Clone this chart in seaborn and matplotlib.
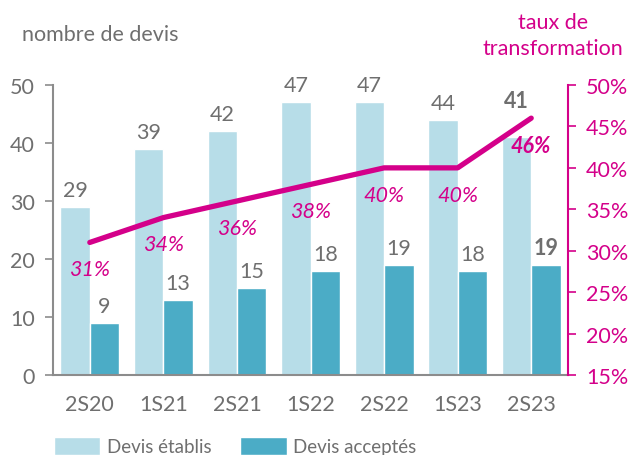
import seaborn as sns
import matplotlib.pyplot as plt
import pandas as pd
import numpy as np

periodes = ["2S20", "1S21", "2S21", "1S22", "2S22", "1S23", "2S23"]
devis_etablis = [29, 39, 42, 47, 47, 44, 41]
devis_acceptes = [9, 13, 15, 18, 19, 18, 19]
taux = [31, 34, 36, 38, 40, 40, 46]

GRIS = "#6f6f6f"
MAGENTA = "#d4008a"
CLAIR = "#b7dde8"
FONCE = "#4bacc6"
FS = 15.5

sns.set_theme(style="white")
plt.rcParams['font.family'] = ['Lato', 'DejaVu Sans']

df = pd.DataFrame({
    "periode": periodes * 2,
    "devis": devis_etablis + devis_acceptes,
    "serie": ["Devis établis"] * len(periodes) + ["Devis acceptés"] * len(periodes),
})

fig = plt.figure(figsize=(6.35, 4.56), dpi=100)
ax = fig.add_axes([0.0835, 0.1754, 0.811, 0.636])
sns.barplot(data=df, x="periode", y="devis", hue="serie", ax=ax,
            palette=[CLAIR, FONCE], width=0.8, saturation=1, legend=True)
ax.set_ylim(0, 50)
ax.set_xlim(-0.5, len(periodes) - 0.5)
ax.set_yticks(range(0, 51, 10))
ax.set_xlabel("")
ax.set_ylabel("")
ax.set_xticks(np.arange(len(periodes) + 1) - 0.5, minor=False)
ax.set_xticklabels([])
ax.set_xticks(np.arange(len(periodes)), minor=True)
ax.set_xticklabels(periodes, minor=True)
ax.tick_params(axis="x", which="major", length=6, width=1.2, color="#8c8c8c", direction="out")
ax.tick_params(axis="x", which="minor", length=0, pad=14, labelsize=FS, labelcolor=GRIS)
ax.tick_params(axis="y", length=6, width=1.2, color="#8c8c8c", direction="out", left=True,
               labelsize=FS, labelcolor=GRIS, pad=7)
for s in ["top", "right"]:
    ax.spines[s].set_visible(False)
for s in ["left", "bottom"]:
    ax.spines[s].set_color("#8c8c8c")
    ax.spines[s].set_linewidth(1.5)

# bar value labels
for ci, cont in enumerate(ax.containers):
    vals = devis_etablis if ci == 0 else devis_acceptes
    for i, (p, v) in enumerate(zip(cont.patches, vals)):
        last = i == len(vals) - 1
        dy = 5
        if last and ci == 0:
            dy = 19
        ax.annotate(str(v), (p.get_x() + p.get_width() / 2, p.get_height()),
                    xytext=(0, dy), textcoords="offset points", ha="center", va="bottom",
                    fontsize=FS, color=GRIS, fontweight="bold" if last else "normal")

ax2 = ax.twinx()
sns.lineplot(x=np.arange(len(periodes)), y=taux, ax=ax2, color=MAGENTA, linewidth=3.8,
             solid_capstyle="round")
ax2.set_ylim(15, 50)
ax2.set_yticks(range(15, 51, 5))
ax2.set_yticklabels([f"{t}%" for t in range(15, 51, 5)])
ax2.tick_params(axis="y", length=6, width=1.2, color=MAGENTA, direction="out", right=True,
                labelsize=FS, labelcolor=MAGENTA, pad=7)
for s in ["top", "left", "bottom"]:
    ax2.spines[s].set_visible(False)
ax2.spines["right"].set_color(MAGENTA)
ax2.spines["right"].set_linewidth(1.5)

for i, t in enumerate(taux):
    last = i == len(taux) - 1
    ax2.annotate(f"{t}%", (i, t), xytext=(0, -12), textcoords="offset points",
                 ha="center", va="top", fontsize=FS, color=MAGENTA, style="italic",
                 fontweight="bold" if last else "normal")

fig.text(0.035, 0.923, "nombre de devis", fontsize=FS, color=GRIS, ha="left", va="center")
fig.text(0.871, 0.921, "taux de\ntransformation", fontsize=FS, color=MAGENTA, ha="center",
         va="center", linespacing=1.4)

handles, labels = ax.get_legend_handles_labels()
ax.legend_.remove()
fig.legend(handles, labels, loc="center", bbox_to_anchor=(0.37, 0.02), ncol=2, frameon=False,
           fontsize=13.5, labelcolor=GRIS, handlelength=2.5, handleheight=1.1,
           columnspacing=1.5, handletextpad=0.35)

fig.savefig("out.png", dpi=100)
